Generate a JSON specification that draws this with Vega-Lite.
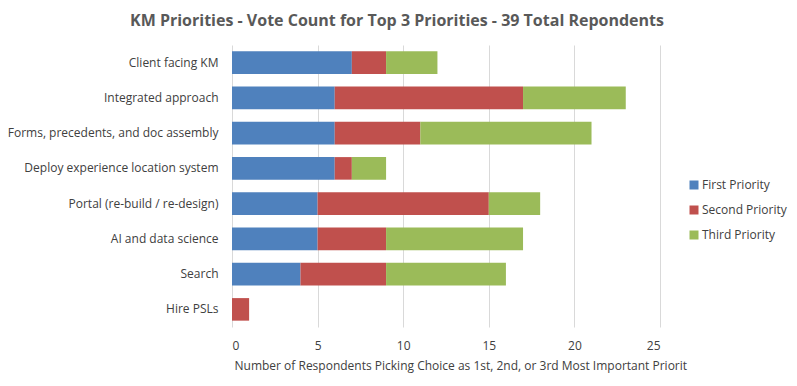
{
  "$schema": "https://vega.github.io/schema/vega-lite/v6.json",
  "autosize": {"type": "none"},
  "padding": {"left": 232, "top": 45, "right": 137, "bottom": 59},
  "width": 428,
  "height": 282,
  "background": "white",
  "title": {
    "text": "KM Priorities - Vote Count for Top 3 Priorities - 39 Total Repondents",
    "font": "Open Sans",
    "fontSize": 16,
    "fontWeight": "bold",
    "color": "#595959",
    "anchor": "middle",
    "dx": -49,
    "offset": 16,
    "limit": 0
  },
  "data": {
    "values": [
      {"item": "Client facing KM", "priority": "First Priority", "rank": 1, "count": 7},
      {"item": "Client facing KM", "priority": "Second Priority", "rank": 2, "count": 2},
      {"item": "Client facing KM", "priority": "Third Priority", "rank": 3, "count": 3},
      {"item": "Integrated approach", "priority": "First Priority", "rank": 1, "count": 6},
      {"item": "Integrated approach", "priority": "Second Priority", "rank": 2, "count": 11},
      {"item": "Integrated approach", "priority": "Third Priority", "rank": 3, "count": 6},
      {"item": "Forms, precedents, and doc assembly", "priority": "First Priority", "rank": 1, "count": 6},
      {"item": "Forms, precedents, and doc assembly", "priority": "Second Priority", "rank": 2, "count": 5},
      {"item": "Forms, precedents, and doc assembly", "priority": "Third Priority", "rank": 3, "count": 10},
      {"item": "Deploy experience location system", "priority": "First Priority", "rank": 1, "count": 6},
      {"item": "Deploy experience location system", "priority": "Second Priority", "rank": 2, "count": 1},
      {"item": "Deploy experience location system", "priority": "Third Priority", "rank": 3, "count": 2},
      {"item": "Portal (re-build / re-design)", "priority": "First Priority", "rank": 1, "count": 5},
      {"item": "Portal (re-build / re-design)", "priority": "Second Priority", "rank": 2, "count": 10},
      {"item": "Portal (re-build / re-design)", "priority": "Third Priority", "rank": 3, "count": 3},
      {"item": "AI and data science", "priority": "First Priority", "rank": 1, "count": 5},
      {"item": "AI and data science", "priority": "Second Priority", "rank": 2, "count": 4},
      {"item": "AI and data science", "priority": "Third Priority", "rank": 3, "count": 8},
      {"item": "Search", "priority": "First Priority", "rank": 1, "count": 4},
      {"item": "Search", "priority": "Second Priority", "rank": 2, "count": 5},
      {"item": "Search", "priority": "Third Priority", "rank": 3, "count": 7},
      {"item": "Hire PSLs", "priority": "First Priority", "rank": 1, "count": 0},
      {"item": "Hire PSLs", "priority": "Second Priority", "rank": 2, "count": 1},
      {"item": "Hire PSLs", "priority": "Third Priority", "rank": 3, "count": 0}
    ]
  },
  "mark": {"type": "bar"},
  "encoding": {
    "y": {
      "field": "item",
      "type": "nominal",
      "sort": ["Client facing KM", "Integrated approach", "Forms, precedents, and doc assembly", "Deploy experience location system", "Portal (re-build / re-design)", "AI and data science", "Search", "Hire PSLs"],
      "scale": {"paddingInner": 0.36, "paddingOuter": 0.18},
      "axis": {
        "title": null,
        "ticks": false,
        "domain": false,
        "labelFont": "Open Sans",
        "labelFontSize": 12,
        "labelColor": "#404040",
        "labelPadding": 14,
        "labelLimit": 260
      }
    },
    "x": {
      "field": "count",
      "type": "quantitative",
      "stack": "zero",
      "scale": {"domain": [0, 25], "nice": false},
      "axis": {
        "values": [0, 5, 10, 15, 20, 25],
        "title": "Number of Respondents Picking Choice as 1st, 2nd, or 3rd Most Important Priorit",
        "titleFont": "Open Sans",
        "titleFontSize": 12,
        "titleFontWeight": "normal",
        "titleColor": "#404040",
        "titleAnchor": "start",
        "titleAlign": "left",
        "titleX": 2,
        "titlePadding": 9,
        "labelFont": "Open Sans",
        "labelFontSize": 12,
        "labelColor": "#404040",
        "labelPadding": 13,
        "ticks": false,
        "domain": false,
        "grid": true,
        "gridColor": "#d9d9d9",
        "gridWidth": 1
      }
    },
    "color": {
      "field": "priority",
      "type": "nominal",
      "scale": {
        "domain": ["First Priority", "Second Priority", "Third Priority"],
        "range": ["#4F81BD", "#C0504D", "#9BBB59"]
      },
      "legend": {
        "title": null,
        "orient": "none",
        "legendX": 456,
        "legendY": 134,
        "symbolType": "square",
        "symbolSize": 81,
        "symbolStrokeWidth": 0,
        "symbolOpacity": 1,
        "labelFont": "Open Sans",
        "labelFontSize": 12,
        "labelColor": "#404040",
        "rowPadding": 13,
        "labelOffset": 2
      }
    },
    "order": {"field": "rank", "type": "quantitative"}
  },
  "config": {"view": {"stroke": null}}
}
